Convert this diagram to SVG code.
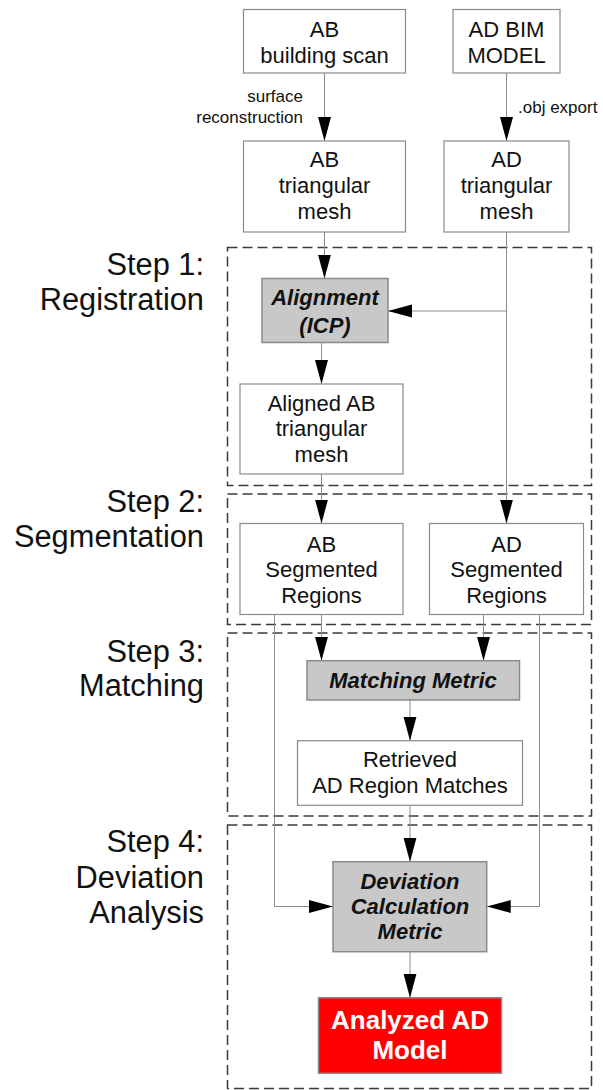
<svg xmlns="http://www.w3.org/2000/svg" width="603" height="1090" viewBox="0 0 603 1090">
  <defs>
    <marker id="arrow" markerUnits="userSpaceOnUse" markerWidth="24" markerHeight="14" refX="24" refY="7" orient="auto">
      <path d="M0,0.5 L24,7 L0,13.5 z" fill="#000"/>
    </marker>
    <style>
      .box { fill: #fff; stroke: #8a8a8a; stroke-width: 1.2; }
      .proc { fill: #c8c8c8; stroke: #8a8a8a; stroke-width: 1.5; }
      .result { fill: #ff0000; stroke: #8a8a8a; stroke-width: 1.5; }
      .stage { fill: none; stroke: #3a3a3a; stroke-width: 1.5; stroke-dasharray: 10 5; }
      .link { fill: none; stroke: #8c8c8c; stroke-width: 1; marker-end: url(#arrow); }
      .plain { fill: none; stroke: #8c8c8c; stroke-width: 1; }
      .t { font-family: "Liberation Sans", Arial, sans-serif; font-size: 22px; fill: #111; text-anchor: middle; }
      .tb { font-family: "Liberation Sans", Arial, sans-serif; font-size: 22px; font-weight: bold; font-style: italic; fill: #111; text-anchor: middle; }
      .tr { font-family: "Liberation Sans", Arial, sans-serif; font-size: 26px; font-weight: bold; fill: #fff; text-anchor: middle; }
      .lbl { font-family: "Liberation Sans", Arial, sans-serif; font-size: 17px; fill: #111; }
      .step { font-family: "Liberation Sans", Arial, sans-serif; font-size: 30.8px; fill: #111; text-anchor: end; }
    </style>
  </defs>

  <rect width="603" height="1090" fill="#fff"/>

  <!-- stage frames and their titles -->
  <g id="stage1">
    <rect class="stage" x="227.5" y="247.5" width="364" height="238"/>
    <text class="step" x="204" y="275">Step 1:</text>
    <text class="step" x="204" y="310">Registration</text>
  </g>
  <g id="stage2">
    <rect class="stage" x="227.5" y="494" width="364" height="130.5"/>
    <text class="step" x="204" y="512">Step 2:</text>
    <text class="step" x="204" y="547">Segmentation</text>
  </g>
  <g id="stage3">
    <rect class="stage" x="227.5" y="633" width="364" height="183"/>
    <text class="step" x="204" y="662">Step 3:</text>
    <text class="step" x="204" y="696">Matching</text>
  </g>
  <g id="stage4">
    <rect class="stage" x="227.5" y="825" width="364" height="263.5"/>
    <text class="step" x="204" y="852">Step 4:</text>
    <text class="step" x="204" y="888">Deviation</text>
    <text class="step" x="204" y="923">Analysis</text>
  </g>

  <!-- connectors -->
  <g id="connectors">
    <line class="link" x1="324.5" y1="73" x2="324.5" y2="141"/>
    <line class="link" x1="506.5" y1="73" x2="506.5" y2="141"/>
    <line class="link" x1="324.5" y1="232" x2="324.5" y2="278.5"/>
    <line class="plain" x1="506.5" y1="232" x2="506.5" y2="311"/>
    <line class="link" x1="506.5" y1="311" x2="388" y2="311"/>
    <line class="link" x1="506.5" y1="311" x2="506.5" y2="523.5"/>
    <line class="link" x1="321.5" y1="342.5" x2="321.5" y2="384"/>
    <line class="link" x1="321.5" y1="474" x2="321.5" y2="523.5"/>
    <line class="link" x1="321.5" y1="614.5" x2="321.5" y2="660.7"/>
    <line class="link" x1="483.5" y1="614.5" x2="483.5" y2="660.7"/>
    <path class="link" d="M274.5,614.5 V906.5 H333"/>
    <path class="link" d="M539.5,614.5 V906.5 H486.7"/>
    <line class="link" x1="410" y1="700" x2="410" y2="740.7"/>
    <line class="link" x1="410" y1="805.3" x2="410" y2="861.7"/>
    <line class="link" x1="410" y1="951.7" x2="410" y2="997.7"/>
    <text class="lbl" x="303" y="102" text-anchor="end">surface</text>
    <text class="lbl" x="303" y="122.5" text-anchor="end">reconstruction</text>
    <text class="lbl" x="518" y="113">.obj export</text>
  </g>

  <!-- nodes -->
  <g id="ab-scan">
    <rect class="box" x="243.5" y="9.5" width="162" height="63.5"/>
    <text class="t" x="324.5" y="37">AB</text>
    <text class="t" x="324.5" y="62.5">building scan</text>
  </g>
  <g id="ad-bim">
    <rect class="box" x="453" y="9.5" width="107" height="63.5"/>
    <text class="t" x="506.5" y="37">AD BIM</text>
    <text class="t" x="506.5" y="62.5">MODEL</text>
  </g>
  <g id="ab-mesh">
    <rect class="box" x="243.5" y="141" width="162" height="91"/>
    <text class="t" x="324.5" y="167">AB</text>
    <text class="t" x="324.5" y="193">triangular</text>
    <text class="t" x="324.5" y="219">mesh</text>
  </g>
  <g id="ad-mesh">
    <rect class="box" x="444" y="141" width="125" height="91"/>
    <text class="t" x="506.5" y="167">AD</text>
    <text class="t" x="506.5" y="193">triangular</text>
    <text class="t" x="506.5" y="219">mesh</text>
  </g>
  <g id="alignment">
    <rect class="proc" x="262" y="278.5" width="126" height="64"/>
    <text class="tb" x="325" y="304.5">Alignment</text>
    <text class="tb" x="325" y="333">(ICP)</text>
  </g>
  <g id="aligned-ab-mesh">
    <rect class="box" x="240" y="384" width="163" height="90"/>
    <text class="t" x="321.5" y="411">Aligned AB</text>
    <text class="t" x="321.5" y="436">triangular</text>
    <text class="t" x="321.5" y="462">mesh</text>
  </g>
  <g id="ab-segmented">
    <rect class="box" x="240" y="523.5" width="163" height="91"/>
    <text class="t" x="321.5" y="552">AB</text>
    <text class="t" x="321.5" y="577">Segmented</text>
    <text class="t" x="321.5" y="603">Regions</text>
  </g>
  <g id="ad-segmented">
    <rect class="box" x="429.5" y="523.5" width="154" height="91"/>
    <text class="t" x="506.5" y="552">AD</text>
    <text class="t" x="506.5" y="577">Segmented</text>
    <text class="t" x="506.5" y="603">Regions</text>
  </g>
  <g id="matching-metric">
    <rect class="proc" x="307" y="660.7" width="212.5" height="39.3"/>
    <text class="tb" x="413" y="687.5">Matching Metric</text>
  </g>
  <g id="retrieved-matches">
    <rect class="box" x="297.5" y="740.7" width="225" height="64.6"/>
    <text class="t" x="410" y="767">Retrieved</text>
    <text class="t" x="410" y="792.5">AD Region Matches</text>
  </g>
  <g id="deviation-metric">
    <rect class="proc" x="333" y="861.7" width="153.7" height="90"/>
    <text class="tb" x="410" y="888.5">Deviation</text>
    <text class="tb" x="410" y="913.5">Calculation</text>
    <text class="tb" x="410" y="938.5">Metric</text>
  </g>
  <g id="analyzed-model">
    <rect class="result" x="318.5" y="997.7" width="183" height="75.6"/>
    <text class="tr" x="410" y="1028.5">Analyzed AD</text>
    <text class="tr" x="410" y="1058.5">Model</text>
  </g>
</svg>
